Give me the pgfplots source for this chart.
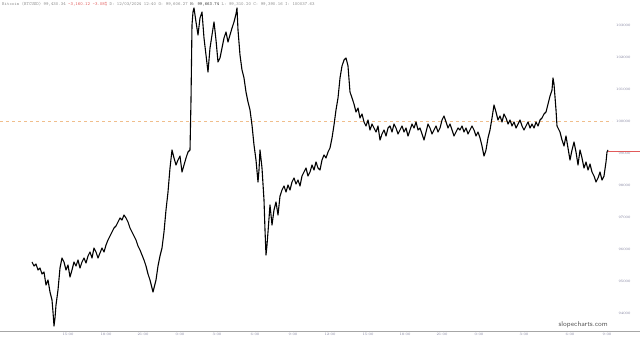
\documentclass[border=0pt]{standalone}
\usepackage{pgfplots}
\pgfplotsset{compat=1.18}
\usepackage{pgfplotstable}
\definecolor{lab}{RGB}{120,120,150}
\definecolor{hdr}{RGB}{140,140,140}
\definecolor{hred}{RGB}{225,90,90}
\definecolor{dashcol}{RGB}{240,190,140}
\pgfplotstableread{
x y
32 95594
34 95469
36 95531
38 95344
40 95406
42 95219
44 95281
46 94875
48 95031
50 94656
52 94406
53 94031
54 93594
55 93844
56 94250
58 94719
60 95406
62 95719
64 95594
66 95344
68 95500
70 95125
72 95344
74 95594
76 95469
78 95656
80 95406
82 95594
84 95719
86 95562
88 95781
90 95906
92 95719
94 96031
96 95906
98 95719
100 95875
102 96031
104 95906
106 96125
108 96281
110 96406
112 96531
114 96656
116 96719
118 96844
120 96969
122 96906
124 97062
126 96969
128 96844
130 96656
132 96531
134 96406
136 96281
138 96094
140 95969
142 95812
144 95656
146 95469
148 95219
150 95031
152 94781
153 94656
154 94781
156 95031
158 95469
160 95781
162 96031
164 96531
166 97219
168 97781
170 98531
172 99094
174 98844
176 98625
178 98781
180 98906
182 98406
184 98625
186 98844
188 99031
190 99094
191 100656
192 103000
193 103406
194 103531
196 103094
198 102688
200 103219
202 103406
204 102594
206 102062
208 101531
210 102281
212 102688
214 103094
216 102531
218 101844
220 101969
222 102281
224 102594
226 102781
228 102469
230 102688
232 102906
234 103094
236 103344
237 103531
238 102844
240 102062
242 101594
244 101344
246 100906
248 100594
250 100344
252 99875
254 99250
256 98781
258 98094
259 98469
260 99094
262 98531
264 97531
265 96594
266 95812
267 96125
268 96531
270 97375
272 96750
274 97219
276 97469
278 97062
280 97656
282 97844
284 97969
286 97781
288 98000
290 97844
292 98094
294 98219
296 98031
298 98156
300 97969
302 98281
304 98406
306 98531
308 98281
310 98406
312 98625
314 98469
316 98719
318 98531
320 98469
322 98781
324 98938
326 98844
328 99031
330 99156
332 99469
334 99875
336 100344
338 100719
340 101344
342 101719
344 101906
346 101969
348 101719
350 100906
352 100719
354 100531
356 100281
358 100406
360 100094
362 100219
364 99969
366 99844
368 100031
370 99719
372 99906
374 99781
376 99656
378 99844
380 99406
382 99594
384 99719
386 99531
388 99781
390 99844
392 99656
394 99906
396 99781
398 99594
400 99719
402 99844
404 99656
406 99781
408 99531
410 99719
412 99906
414 99781
416 99969
418 99719
420 99781
422 99594
424 99406
426 99656
428 99906
430 99781
432 99594
434 99719
436 99844
438 99656
440 99781
442 100031
444 100156
446 99969
448 99781
450 99906
452 99719
454 99531
456 99656
458 99781
460 99719
462 99844
464 99656
466 99781
468 99594
470 99719
472 99844
474 99719
476 99531
478 99656
480 99469
482 99219
484 98906
486 99094
488 99469
490 99719
492 100094
494 100500
496 100281
498 100031
500 100156
502 99969
504 100219
506 100094
508 99906
510 100031
512 99844
514 99969
516 99781
518 99906
520 100031
522 99844
524 99719
526 99844
528 99969
530 99781
532 99906
534 99781
536 99969
538 99844
540 100031
542 100094
544 100219
546 100281
548 100531
550 100781
552 100969
553 101344
554 101156
556 100344
557 99844
558 99781
560 99656
562 99406
564 99219
566 99531
568 99156
570 98781
572 99094
574 99344
576 99031
578 98625
580 99094
582 98844
584 98531
586 98719
588 98469
590 98656
592 98406
594 98281
596 98094
598 98219
600 98406
602 98156
604 98281
606 98719
607 99031
608 99094
}\btc
\begin{document}
\begin{tikzpicture}
\begin{axis}[
  scale only axis,
  width=640pt, height=331pt,
  xmin=0, xmax=640,
  ymin=93437.5, ymax=103781.25,
  scaled y ticks=false, scaled x ticks=false,
  axis x line*=bottom,
  axis y line*=right,
  x axis line style={draw=black!35, line width=0.6pt, -},
  y axis line style={draw=none},
  major tick length=0pt,
  xtick={68,106,143,180,217,255,293,330,368,405,442,479,524,570,607},
  xticklabels={15:00,18:00,21:00,0:00,3:00,6:00,9:00,12:00,15:00,18:00,21:00,0:00,3:00,6:00,9:00},
  xticklabel style={font=\fontsize{3.5}{4}\selectfont, text=lab, yshift=1pt},
  ytick={94000,95000,96000,97000,98000,99000,100000,101000,102000,103000},
  yticklabels={94000,95000,96000,97000,98000,99000,100000,101000,102000,103000},
  yticklabel pos=right,
  yticklabel style={font=\fontsize{3.5}{4}\selectfont, text=lab, anchor=east, xshift=-6pt},
  clip=false,
]
\addplot[dashcol, line width=0.6pt, dash pattern=on 3pt off 3pt] coordinates {(0,100000) (612,100000)};
\addplot[black, line width=1.1pt, line join=round] table[x=x,y=y] {\btc};
\addplot[hred, line width=0.6pt] coordinates {(608,99062) (640,99062)};
\node[anchor=north west, inner sep=0pt, text=hdr, font=\fontsize{4.6}{5}\selectfont\ttfamily] at (rel axis cs:0,1) [xshift=2pt, yshift=-2pt]
  {Bitcoin (BTCUSD) 99,430.34 \textcolor{hred}{-3,160.12 -3.08\%} D: 12/03/2024 12:40 O: 99,606.27 \textcolor{black!70}{\textbf{H: 99,663.74}} L: 99,310.20 C: 99,390.16 I: 100037.63};
\node[anchor=south east, inner sep=0pt, text=black!65, font=\fontsize{7}{8}\selectfont\sffamily] at (axis cs:608,93540) {slopecharts.com};
\end{axis}
\pgfresetboundingbox
\useasboundingbox (current axis.south west) ++(0,-10pt) rectangle (current axis.north east);
\end{tikzpicture}
\end{document}
